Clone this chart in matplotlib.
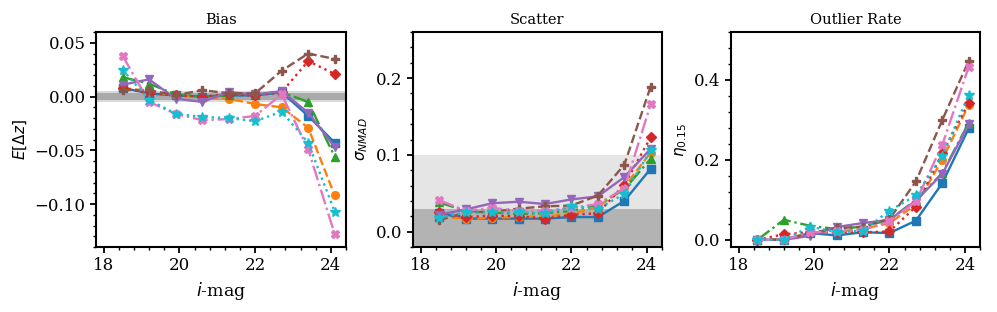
import matplotlib
matplotlib.use("Agg")
import matplotlib.pyplot as plt
from matplotlib.ticker import MultipleLocator, AutoMinorLocator

plt.rcParams['font.family'] = 'serif'
plt.rcParams['font.serif'] = ['DejaVu Serif']

# i-mag bin centres
imag = [18.5, 19.2, 19.9, 20.6, 21.3, 22.0, 22.7, 23.4, 24.1]

# one entry per method (colour / marker / linestyle order of the original)
names = ['m1', 'm2', 'm3', 'm4', 'm5', 'm6', 'm7', 'm8']

bias = {
    'm1': [0.008, 0.003, 0.001, 0.000, 0.001, 0.001, 0.004, -0.018, -0.043],
    'm2': [0.008, 0.005, 0.001, -0.001, -0.002, -0.007, -0.010, -0.029, -0.092],
    'm3': [0.018, 0.012, 0.002, 0.000, 0.001, 0.002, 0.004, -0.005, -0.056],
    'm4': [0.008, 0.003, 0.001, 0.000, 0.002, 0.001, 0.004, 0.033, 0.021],
    'm5': [0.011, 0.016, -0.002, -0.005, 0.004, 0.002, 0.005, -0.015, -0.047],
    'm6': [0.006, 0.006, 0.001, 0.006, 0.003, 0.003, 0.024, 0.040, 0.035],
    'm7': [0.038, -0.005, -0.016, -0.022, -0.021, -0.018, 0.002, -0.049, -0.128],
    'm8': [0.025, -0.003, -0.016, -0.019, -0.020, -0.023, -0.014, -0.043, -0.107],
}

scatter = {
    'm1': [0.024, 0.017, 0.017, 0.017, 0.017, 0.019, 0.019, 0.040, 0.082],
    'm2': [0.020, 0.017, 0.018, 0.019, 0.020, 0.023, 0.032, 0.058, 0.103],
    'm3': [0.038, 0.027, 0.025, 0.023, 0.024, 0.027, 0.035, 0.055, 0.095],
    'm4': [0.025, 0.019, 0.021, 0.020, 0.017, 0.022, 0.024, 0.061, 0.123],
    'm5': [0.022, 0.029, 0.037, 0.039, 0.036, 0.042, 0.046, 0.071, 0.108],
    'm6': [0.015, 0.025, 0.026, 0.030, 0.033, 0.034, 0.047, 0.087, 0.189],
    'm7': [0.041, 0.027, 0.031, 0.027, 0.027, 0.031, 0.036, 0.056, 0.166],
    'm8': [0.018, 0.025, 0.025, 0.025, 0.024, 0.033, 0.030, 0.049, 0.106],
}

outlier = {
    'm1': [0.000, 0.000, 0.017, 0.011, 0.019, 0.017, 0.048, 0.142, 0.279],
    'm2': [0.000, 0.002, 0.017, 0.021, 0.027, 0.042, 0.088, 0.200, 0.338],
    'm3': [0.000, 0.050, 0.035, 0.027, 0.033, 0.050, 0.100, 0.167, 0.293],
    'm4': [0.000, 0.014, 0.019, 0.019, 0.019, 0.021, 0.083, 0.217, 0.343],
    'm5': [0.000, 0.000, 0.010, 0.032, 0.042, 0.050, 0.098, 0.165, 0.289],
    'm6': [0.000, 0.000, 0.017, 0.029, 0.033, 0.052, 0.146, 0.300, 0.448],
    'm7': [0.000, 0.000, 0.019, 0.021, 0.025, 0.046, 0.096, 0.238, 0.433],
    'm8': [0.000, 0.000, 0.033, 0.019, 0.023, 0.073, 0.111, 0.210, 0.363],
}

colors = ['tab:blue', 'tab:orange', 'tab:green', 'tab:red',
          'tab:purple', 'tab:brown', 'tab:pink', 'tab:cyan']
markers = ['s', 'o', '^', 'D', 'v', 'P', 'X', '*']
styles = ['-', '--', '-.', ':', '-', '--', '-.', ':']

fig = plt.figure(figsize=(9.97, 3.12), dpi=100)
ax1 = fig.add_axes([0.0963, 0.2083, 0.2508, 0.689])
ax2 = fig.add_axes([0.4142, 0.2083, 0.2498, 0.689])
ax3 = fig.add_axes([0.7332, 0.2083, 0.2498, 0.689])

# shaded reference regions
ax1.axhspan(-0.005, 0.005, color='#d9d9d9', lw=0)
ax1.axhspan(-0.003, 0.003, color='#aaaaaa', lw=0)
ax2.axhspan(-1, 0.1, color='#e5e5e5', lw=0)
ax2.axhspan(-1, 0.03, color='#b3b3b3', lw=0)

for ax, data in [(ax1, bias), (ax2, scatter), (ax3, outlier)]:
    for i, n in enumerate(names):
        ms = 7.5 if markers[i] == '*' else 5.5
        ax.plot(imag, data[n], color=colors[i], marker=markers[i],
                linestyle=styles[i], lw=1.7, ms=ms)

ax1.set_ylim(-0.14, 0.06)
ax2.set_ylim(-0.02, 0.26)
ax3.set_ylim(-0.018, 0.52)
ax1.yaxis.set_major_locator(MultipleLocator(0.05))
ax2.yaxis.set_major_locator(MultipleLocator(0.1))
ax3.yaxis.set_major_locator(MultipleLocator(0.2))

ax1.set_title('Bias', fontsize=10.5)
ax2.set_title('Scatter', fontsize=10.5)
ax3.set_title('Outlier Rate', fontsize=10.5)
ax1.set_ylabel(r'$E[\Delta z]$', fontsize=11)
ax2.set_ylabel(r'$\sigma_{NMAD}$', fontsize=11)
ax3.set_ylabel(r'$\eta_{0.15}$', fontsize=11)

for ax in [ax1, ax2, ax3]:
    ax.set_xlim(17.8, 24.4)
    ax.xaxis.set_major_locator(MultipleLocator(2))
    ax.xaxis.set_minor_locator(MultipleLocator(0.4))
    ax.yaxis.set_minor_locator(AutoMinorLocator(5))
    ax.tick_params(labelsize=12, width=1.3, length=4)
    ax.tick_params(which='minor', width=1, length=2.4)
    ax.set_xlabel(r'$i$-mag', fontsize=12.5)
    for s in ax.spines.values():
        s.set_linewidth(1.5)

fig.savefig('out.png', dpi=100)
